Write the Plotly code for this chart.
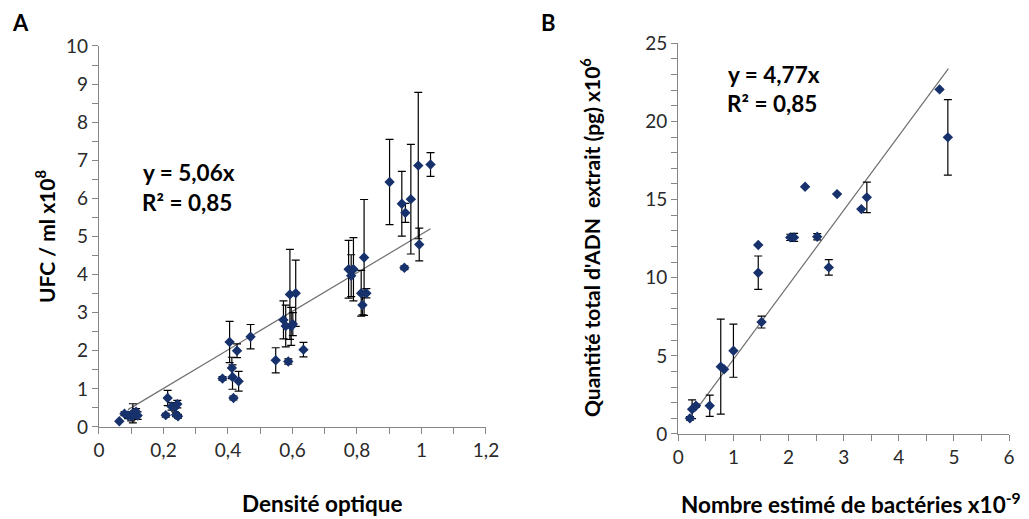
import plotly.graph_objects as go

# Panel A: optical density vs CFU count (x10^8 / ml)
od = [0.063, 0.079, 0.09, 0.10, 0.105, 0.11, 0.115, 0.12,
      0.207, 0.213, 0.225, 0.236, 0.239, 0.243, 0.245,
      0.383, 0.405, 0.412, 0.414, 0.417, 0.428, 0.433, 0.47,
      0.548, 0.572, 0.579, 0.587, 0.592, 0.596, 0.601, 0.61, 0.634,
      0.774, 0.782, 0.789, 0.813, 0.817, 0.822, 0.829,
      0.901, 0.939, 0.947, 0.95, 0.967, 0.99, 0.993, 1.028]
cfu = [0.15, 0.35, 0.30, 0.28, 0.36, 0.33, 0.40, 0.30,
       0.31, 0.76, 0.54, 0.52, 0.32, 0.60, 0.28,
       1.27, 2.23, 1.55, 1.31, 0.76, 2.00, 1.20, 2.37,
       1.75, 2.81, 2.65, 1.72, 3.48, 2.64, 2.70, 3.51, 2.03,
       4.14, 3.97, 4.14, 3.51, 3.20, 4.45, 3.51,
       6.43, 5.86, 4.18, 5.62, 5.98, 6.86, 4.79, 6.89]
cfu_err = [0.0, 0.05, 0.08, 0.12, 0.25, 0.10, 0.08, 0.10,
           0.05, 0.20, 0.10, 0.12, 0.05, 0.10, 0.05,
           0.05, 0.54, 0.28, 0.32, 0.05, 0.18, 0.26, 0.32,
           0.33, 0.50, 0.55, 0.07, 1.18, 0.50, 0.30, 0.87, 0.19,
           0.76, 0.55, 0.83, 0.60, 0.26, 1.52, 0.12,
           1.12, 0.85, 0.05, 0.25, 1.44, 1.92, 0.43, 0.31]
slope_a = 5.06
fit_a_x = [0.09, 1.028]

# Panel B: estimated bacteria count vs extracted DNA (pg x10^6)
bact = [0.21, 0.25, 0.32, 0.57, 0.77, 0.83, 1.0, 1.45, 1.45, 1.51,
        2.03, 2.10, 2.30, 2.52, 2.73, 2.88, 3.32, 3.42, 4.74, 4.89]
dna = [1.0, 1.58, 1.81, 1.81, 4.31, 4.14, 5.33, 12.09, 10.32, 7.16,
       12.58, 12.58, 15.82, 12.62, 10.66, 15.35, 14.39, 15.14, 22.05, 18.98]
dna_err = [0.12, 0.6, 0.1, 0.68, 3.04, 0.0, 1.7, 0.0, 1.07, 0.38,
           0.2, 0.25, 0.0, 0.2, 0.5, 0.0, 0.0, 0.98, 0.0, 2.42]
slope_b = 4.77
fit_b_x = [0.3, 4.9]

marker_color = "#16316b"
axis_grey = "#868686"
font_family = "Lato, 'Open Sans', sans-serif"

fig = go.Figure()

fig.add_trace(go.Scatter(
    x=fit_a_x, y=[slope_a * v for v in fit_a_x], mode="lines",
    line=dict(color="#6e6e6e", width=1.2), xaxis="x", yaxis="y",
    hoverinfo="skip", showlegend=False))
fig.add_trace(go.Scatter(
    x=od, y=cfu, mode="markers", xaxis="x", yaxis="y",
    marker=dict(symbol="diamond", size=8, color=marker_color),
    error_y=dict(type="data", array=cfu_err, color="black", thickness=1.2, width=4),
    showlegend=False))

fig.add_trace(go.Scatter(
    x=fit_b_x, y=[slope_b * v for v in fit_b_x], mode="lines",
    line=dict(color="#6e6e6e", width=1.2), xaxis="x2", yaxis="y2",
    hoverinfo="skip", showlegend=False))
fig.add_trace(go.Scatter(
    x=bact, y=dna, mode="markers", xaxis="x2", yaxis="y2",
    marker=dict(symbol="diamond", size=8, color=marker_color),
    error_y=dict(type="data", array=dna_err, color="black", thickness=1.2, width=4),
    showlegend=False))

tick_font = dict(family=font_family, size=19, color="#2a2a2a")
common_axis = dict(
    showgrid=False, zeroline=False, showline=True, linecolor=axis_grey, linewidth=1.3,
    ticks="outside", ticklen=6, tickcolor=axis_grey, tickwidth=1.3,
    tickfont=tick_font, mirror=False, automargin=False,
)

fig.update_layout(
    width=1029, height=519, margin=dict(l=0, r=0, t=0, b=0, autoexpand=False),
    paper_bgcolor="white", plot_bgcolor="white", separators=", ",
    font=dict(family=font_family),
    xaxis=dict(domain=[0.0962, 0.4723], range=[0, 1.2], dtick=0.2, anchor="y",
               minor=dict(ticks="outside", dtick=0.1, ticklen=6, tickcolor=axis_grey, tickwidth=1.3),
               **common_axis),
    yaxis=dict(domain=[0.1773, 0.9114], range=[0, 10], dtick=1, anchor="x",
               minor=dict(ticks="outside", dtick=0.5, ticklen=6, tickcolor=axis_grey, tickwidth=1.3),
               **common_axis),
    xaxis2=dict(domain=[0.6592, 0.9806], range=[0, 6], dtick=1, anchor="y2",
                minor=dict(ticks="outside", dtick=0.5, ticklen=6, tickcolor=axis_grey, tickwidth=1.3),
                **common_axis),
    yaxis2=dict(domain=[0.1638, 0.9166], range=[0, 25], dtick=5, anchor="x2",
                minor=dict(ticks="outside", dtick=1, ticklen=6, tickcolor=axis_grey, tickwidth=1.3),
                **common_axis),
)

title_font = dict(family=font_family, size=21, color="black")
notes = [
    dict(text="<b>A</b>", x=20, y=497, size=22),
    dict(text="<b>B</b>", x=548, y=497, size=22),
    dict(text="<b>Densité optique</b>", x=322, y=16, size=22.5),
    dict(text="<b>Nombre estimé de bactéries x10<sup>-9</sup></b>", x=851, y=16, size=22.5),
    dict(text="<b>y = 5,06x</b>", x=189, y=347, size=22.5),
    dict(text="<b>R² = 0,85</b>", x=187, y=317, size=22.5),
    dict(text="<b>y = 4,77x</b>", x=774, y=444, size=22.5),
    dict(text="<b>R² = 0,85</b>", x=772, y=416, size=22.5),
]
for n in notes:
    fig.add_annotation(text=n["text"], x=n["x"] / 1029, y=n["y"] / 519,
                       xref="paper", yref="paper", showarrow=False,
                       xanchor="center", yanchor="middle",
                       font=dict(family=font_family, size=n["size"], color="black"))

fig.add_annotation(text="<b>UFC / ml x10<sup>8</sup></b>", x=45 / 1029, y=(519 - 237) / 519,
                   xref="paper", yref="paper", showarrow=False, textangle=-90,
                   xanchor="center", yanchor="middle", font=title_font)
fig.add_annotation(text="<b>Quantité total d'ADN  extrait (pg) x10<sup>6</sup></b>",
                   x=590 / 1029, y=(519 - 238) / 519,
                   xref="paper", yref="paper", showarrow=False, textangle=-90,
                   xanchor="center", yanchor="middle", font=title_font)

fig.write_html("out.html")
